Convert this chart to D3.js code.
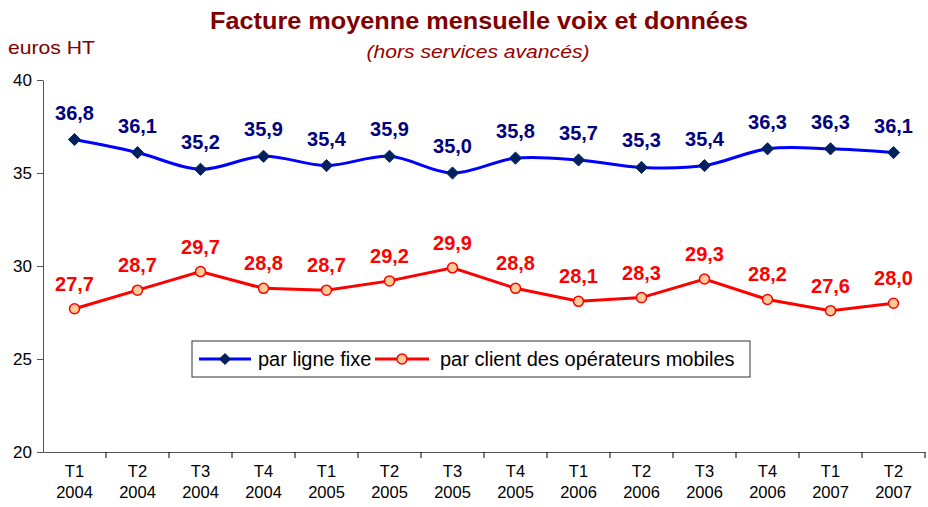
<!DOCTYPE html>
<html>
<head>
<meta charset="utf-8">
<script src="https://cdn.jsdelivr.net/npm/d3@7"></script>
<style>
	body { margin:0; background:#fff; }
	svg { font-family: "Liberation Sans", Arial, sans-serif; }
</style>
</head>
<body>
<div class="c_chart"></div>
<script>
/*DATA
------------------------------------------------------
*/
const trimestres = ["T1","T2","T3","T4","T1","T2","T3","T4","T1","T2","T3","T4","T1","T2"];
const annees = ["2004","2004","2004","2004","2005","2005","2005","2005","2006","2006","2006","2006","2007","2007"];
const ligneFixe = [36.8, 36.1, 35.2, 35.9, 35.4, 35.9, 35.0, 35.8, 35.7, 35.3, 35.4, 36.3, 36.3, 36.1];
const clientMobile = [27.7, 28.7, 29.7, 28.8, 28.7, 29.2, 29.9, 28.8, 28.1, 28.3, 29.3, 28.2, 27.6, 28.0];
const yTicks = [20, 25, 30, 35, 40];

/*SVG
------------------------------------------------------
*/
const width = 928;
const height = 507;
const margin = {top:80, right:3, bottom:55, left:43};

let svg = d3.select(".c_chart")
	.append("svg")
	.attr("width", width)
	.attr("height", height);

const idx = d3.range(trimestres.length);

let x = d3.scaleBand()
	.domain(idx)
	.range([margin.left, width - margin.right]);

let y = d3.scaleLinear()
	.domain([20, 40])
	.range([height - margin.bottom, margin.top]);

const cx = i => x(i) + x.bandwidth()/2;

//titres
svg.append("text")
	.attr("x", 479).attr("y", 29)
	.attr("text-anchor", "middle")
	.attr("font-size", 24).attr("font-weight", "bold")
	.attr("fill", "#800000")
	.attr("textLength", 538).attr("lengthAdjust", "spacingAndGlyphs")
	.text("Facture moyenne mensuelle voix et données");

svg.append("text")
	.attr("x", 478).attr("y", 58)
	.attr("text-anchor", "middle")
	.attr("font-size", 19).attr("font-style", "italic")
	.attr("fill", "#990000")
	.attr("textLength", 223).attr("lengthAdjust", "spacingAndGlyphs")
	.text("(hors services avancés)");

svg.append("text")
	.attr("x", 8).attr("y", 54)
	.attr("font-size", 19)
	.attr("fill", "#800000")
	.attr("textLength", 87).attr("lengthAdjust", "spacingAndGlyphs")
	.text("euros HT");

/*AXES
------------------------------------------------------
*/
let yAxis = svg.append("g")
	.attr("transform", `translate(${margin.left},0)`)
	.call(d3.axisLeft(y).tickValues(yTicks).tickSize(6).tickSizeOuter(0));

yAxis.selectAll("text").attr("font-size", 17).attr("fill", "#000").attr("dx", "-2");

let xAxis = svg.append("g")
	.attr("transform", `translate(0,${height - margin.bottom})`)
	.call(d3.axisBottom(x).tickSize(0).tickFormat(""));

// graduations entre catégories
xAxis.selectAll(".sep")
	.data(idx.slice(1).concat([idx.length]))
	.enter()
	.append("line")
	.attr("x1", i => x(0) + i * x.step())
	.attr("x2", i => x(0) + i * x.step())
	.attr("y1", 0).attr("y2", 6)
	.attr("stroke", "#000");

svg.selectAll(".domain").attr("stroke", "#555");
svg.selectAll(".tick line").attr("stroke", "#555");

let xLab = svg.append("g").selectAll("text")
	.data(idx)
	.enter()
	.append("text")
	.attr("x", cx)
	.attr("y", height - margin.bottom + 25)
	.attr("text-anchor", "middle")
	.attr("font-size", 16.5)
	.attr("fill", "#000");

xLab.append("tspan").attr("x", cx).text(i => trimestres[i]);
xLab.append("tspan").attr("x", cx).attr("dy", 21).text(i => annees[i]);

/*LIGNES
------------------------------------------------------
*/
let lineSmooth = d3.line()
	.x((d, i) => cx(i))
	.y(d => y(d))
	.curve(d3.curveCatmullRom.alpha(0));

let lineStraight = d3.line()
	.x((d, i) => cx(i))
	.y(d => y(d));

svg.append("path")
	.datum(ligneFixe)
	.attr("d", lineSmooth)
	.attr("fill", "none")
	.attr("stroke", "#0000FF")
	.attr("stroke-width", 3);

svg.append("path")
	.datum(clientMobile)
	.attr("d", lineStraight)
	.attr("fill", "none")
	.attr("stroke", "#FF0000")
	.attr("stroke-width", 3);

//marqueurs
svg.selectAll(".fixe")
	.data(ligneFixe)
	.enter()
	.append("path")
	.attr("class", "fixe")
	.attr("d", d3.symbol(d3.symbolDiamond2, 95))
	.attr("transform", (d, i) => `translate(${cx(i)},${y(d)})`)
	.attr("fill", "#002060")
	.attr("stroke", "#0a2a5a")
	.attr("stroke-width", 1);

svg.selectAll(".mobile")
	.data(clientMobile)
	.enter()
	.append("circle")
	.attr("class", "mobile")
	.attr("cx", (d, i) => cx(i))
	.attr("cy", d => y(d))
	.attr("r", 5)
	.attr("fill", "#FFCC99")
	.attr("stroke", "#FF0000")
	.attr("stroke-width", 1.5);

//étiquettes
const fmt = v => d3.format(".1f")(v).replace(".", ",");

svg.selectAll(".labFixe")
	.data(ligneFixe)
	.enter()
	.append("text")
	.attr("x", (d, i) => cx(i))
	.attr("y", d => y(d) - 20)
	.attr("text-anchor", "middle")
	.attr("font-size", 20).attr("font-weight", "bold")
	.attr("fill", "#000080")
	.text(fmt);

svg.selectAll(".labMobile")
	.data(clientMobile)
	.enter()
	.append("text")
	.attr("x", (d, i) => cx(i))
	.attr("y", d => y(d) - 18)
	.attr("text-anchor", "middle")
	.attr("font-size", 20).attr("font-weight", "bold")
	.attr("fill", "#FF0000")
	.text(fmt);

/*LEGENDE
------------------------------------------------------
*/
let legend = svg.append("g").attr("transform", "translate(192,341)");

legend.append("rect")
	.attr("width", 558).attr("height", 36)
	.attr("fill", "#fff")
	.attr("stroke", "#333");

legend.append("line")
	.attr("x1", 7).attr("x2", 59).attr("y1", 18).attr("y2", 18)
	.attr("stroke", "#0000FF").attr("stroke-width", 3);
legend.append("path")
	.attr("d", d3.symbol(d3.symbolDiamond2, 95))
	.attr("transform", "translate(33,18)")
	.attr("fill", "#002060");
legend.append("text")
	.attr("x", 66).attr("y", 25)
	.attr("font-size", 20)
	.text("par ligne fixe");

legend.append("line")
	.attr("x1", 183).attr("x2", 237).attr("y1", 18).attr("y2", 18)
	.attr("stroke", "#FF0000").attr("stroke-width", 3);
legend.append("circle")
	.attr("cx", 210).attr("cy", 18).attr("r", 5)
	.attr("fill", "#FFCC99").attr("stroke", "#FF0000").attr("stroke-width", 1.5);
legend.append("text")
	.attr("x", 248).attr("y", 25)
	.attr("font-size", 20)
	.text("par client des opérateurs mobiles");
</script>
</body>
</html>
